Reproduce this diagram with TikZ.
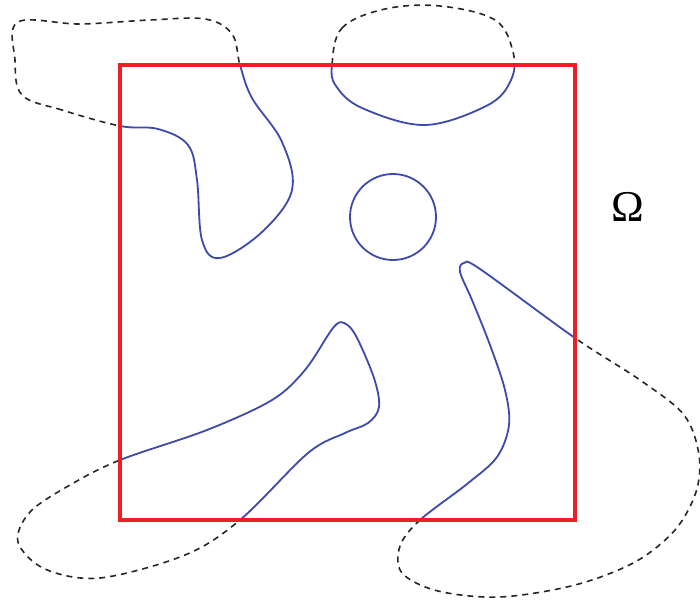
\documentclass[tikz,border=0pt]{standalone}
\usepackage{fontspec}
\setmainfont{Liberation Serif}
\usepackage{tikz}
\definecolor{curveblue}{RGB}{62,74,170}
\definecolor{boxred}{RGB}{236,30,38}

% closed interface curves (pixel coordinates, y downwards)
\newcommand{\curveA}{plot[smooth cycle, tension=0.6] coordinates {(120,126) (62,110) (22,95) (15,60) (18,22) (80,24) (150,20) (205,19) (232,34) (240,65) (252,98) (282,142) (292,190) (262,232) (220,258) (202,240) (197,180) (188,145) (158,129)}}
\newcommand{\curveB}{plot[smooth cycle, tension=0.6] coordinates {(332,65) (342,28) (385,9) (440,6) (495,20) (513,52) (511,80) (488,105) (425,125) (362,108) (336,86)}}
\newcommand{\curveC}{plot[smooth cycle, tension=0.55] coordinates {(120,460) (207,430) (272,400) (305,370) (333,328) (344,323) (356,336) (374,378) (379,407) (368,423) (345,433) (308,453) (240,520) (185,555) (100,578) (45,569) (18,542) (30,512) (70,485)}}
\newcommand{\curveD}{plot[smooth cycle, tension=0.55] coordinates {(464,263) (480,269) (575,338) (640,380) (684,415) (699,455) (696,492) (675,530) (635,562) (575,585) (500,597) (438,591) (402,573) (400,546) (420,520) (467,484) (497,457) (509,425) (505,390) (490,345) (472,300) (460,272)}}

\begin{document}
\begin{tikzpicture}[x=1pt, y=-1pt,
    ext/.style={draw=black!85, line width=1.6pt, dash pattern=on 6pt off 5pt},
    bnd/.style={draw=curveblue, line width=1.8pt},
    sq/.style={draw=boxred, line width=3.8pt},
    lbl/.style={font=\fontsize{44}{46}\selectfont}
  ]
  \useasboundingbox (0,0) rectangle (700,602);
  \coordinate (nw) at (120,65);
  \coordinate (se) at (575,520);

  % outer parts, dashed
  \draw[ext] \curveA;
  \draw[ext] \curveB;
  \draw[ext] \curveC;
  \draw[ext] \curveD;
  \fill[white] (nw) rectangle (se);

  % inner parts, solid
  \begin{scope}
    \clip (nw) rectangle (se);
    \draw[bnd] \curveA;
    \draw[bnd] \curveB;
    \draw[bnd] \curveC;
    \draw[bnd] \curveD;
  \end{scope}
  \draw[bnd] (393,217) circle (43);

  \draw[sq] (nw) rectangle (se);
  \node[lbl] (om) at (628,207) {Ω};
\end{tikzpicture}
\end{document}
